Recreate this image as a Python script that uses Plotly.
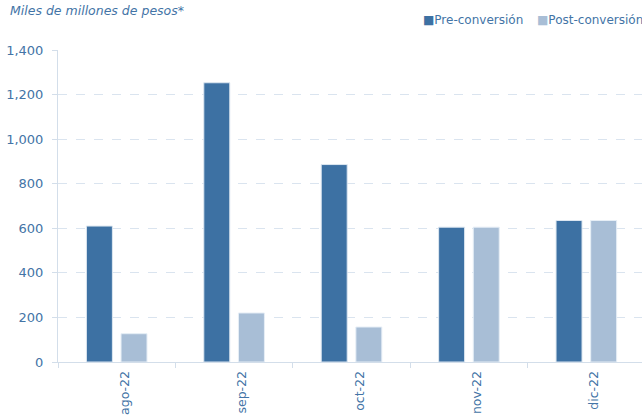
import plotly.graph_objects as go

categories = ["ago-22", "sep-22", "oct-22", "nov-22", "dic-22"]
pre_conversion = [610, 1253, 886, 605, 635]
post_conversion = [127, 220, 157, 605, 635]
y_ticks = [0, 200, 400, 600, 800, 1000, 1200, 1400]
series_names = ["Pre-conversión", "Post-conversión"]
series_colors = ["#3d71a3", "#a8bed6"]

TXT = "#4374a6"
FONT = "DejaVu Sans"

W, H = 642, 417
L, R, T, B = 58, 0, 50, 55
PW, PH = W - L - R, H - T - B

fig = go.Figure()
for name, vals, col, lc in zip(series_names, [pre_conversion, post_conversion],
                               series_colors, ["#dde7f1", "#e6eef6"]):
    fig.add_trace(go.Bar(name=name, x=categories, y=vals, showlegend=False,
                         marker=dict(color=col, line=dict(color=lc, width=1))))

# legend drawn as text entries (square glyph + label)
legend_x_px = [421, 535]
for name, col, xp in zip(series_names, series_colors, legend_x_px):
    fig.add_annotation(
        text=f'<span style="color:{col}">■</span>{name}',
        xref="paper", yref="paper", x=(xp - L) / PW, y=(H - B - 20) / PH,
        xanchor="left", yanchor="middle", showarrow=False,
        font=dict(family=FONT, size=12, color=TXT))

fig.update_layout(
    width=W, height=H,
    margin=dict(l=L, r=R, t=T, b=B, pad=0),
    plot_bgcolor="white", paper_bgcolor="white",
    barmode="group", bargap=0.41, bargroupgap=0.25,
    font=dict(family=FONT, size=13, color=TXT),
    title=dict(text="<i>Miles de millones de pesos*</i>", x=10 / W, xanchor="left",
               y=1 - 10.5 / H, yanchor="middle", font=dict(size=12.5, color=TXT, family=FONT)),
    showlegend=False,
)
fig.update_yaxes(range=[0, 1400], tickvals=y_ticks, tickformat=",d", automargin=False,
                 showgrid=True, gridcolor="#dae4ef", griddash="dash", gridwidth=1,
                 showline=True, linecolor="#d3deea", linewidth=1,
                 ticks="outside", ticklen=5, tickcolor="#d3deea", ticklabelstandoff=6,
                 zeroline=False, tickfont=dict(size=13, color=TXT))
fig.update_xaxes(range=[-0.5, 4.474], tickangle=-90, tickson="boundaries", automargin=False,
                 ticks="outside", ticklen=5, tickcolor="#d3deea", ticklabelshift=8,
                 ticklabelstandoff=3,
                 showline=True, linecolor="#d3deea", linewidth=1,
                 showgrid=False, tickfont=dict(size=12.5, color=TXT))

fig.write_html("out.html", config={"displayModeBar": False},
               post_script="document.body.style.margin='0';document.body.style.overflow='hidden';")
